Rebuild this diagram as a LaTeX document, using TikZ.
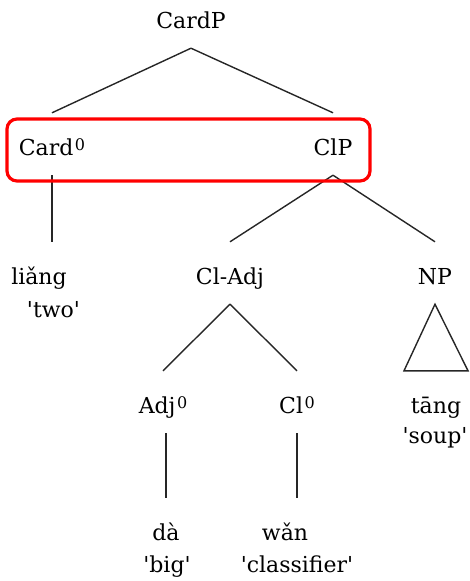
\documentclass[tikz,border=0pt]{standalone}
\usepackage{fontspec}
\setmainfont{DejaVu Serif}[Ligatures=TeXOff]
\newcommand{\zerosup}{\kern1.5pt\raisebox{5pt}{\fontsize{16}{16}\selectfont 0}}
\begin{document}
\begin{tikzpicture}[x=1pt,y=-1pt,
  lbl/.style={anchor=base, inner sep=0pt, font=\fontsize{22}{26}\selectfont},
  tn/.style={lbl, text height=42pt, text depth=20pt},
  edge/.style={draw=black!85, line width=1.4pt},
  redbox/.style={draw=red, line width=3.2pt, rounded corners=10pt}]
\useasboundingbox (0,0) rectangle (469,581);
\node[tn] (cardp) at (191,28) {CardP};
\node[tn] (card0) at (52,155) {Card\zerosup};
\node[tn] (clp) at (333,155) {ClP};
\node[tn] (liang) at (39,284) {liǎng};
\node[lbl] (two) at (53.5,317) {'two'};
\node[tn] (cladj) at (230,284) {Cl-Adj};
\node[tn] (np) at (435,284) {NP};
\node[tn] (adj0) at (163,413) {Adj\zerosup};
\node[tn] (cl0) at (297,413) {Cl\zerosup};
\node[tn] (tang) at (436,413) {tāng};
\node[lbl] (soup) at (435,443) {'soup'};
\node[tn] (da) at (166,540) {dà};
\node[lbl] (big) at (167,572) {'big'};
\node[tn] (wan) at (285,540) {wǎn};
\node[lbl] (classifier) at (297,572) {'classifier'};
\draw[edge] (cardp.south) -- (card0.north);
\draw[edge] (cardp.south) -- (clp.north);
\draw[edge] (card0.south) -- (card0.south |- liang.north);
\draw[edge] (clp.south) -- (cladj.north);
\draw[edge] (clp.south) -- (np.north);
\draw[edge] (cladj.south) -- (adj0.north);
\draw[edge] (cladj.south) -- (cl0.north);
\draw[edge] (np.south) -- ([xshift=-32pt]tang.north) -- ([xshift=32pt]tang.north) -- cycle;
\draw[edge] (da.north) -- (da.north |- adj0.south);
\draw[edge] (cl0.south) -- (cl0.south |- wan.north);
\draw[redbox] (7,119) rectangle (370,181);
\end{tikzpicture}
\end{document}
